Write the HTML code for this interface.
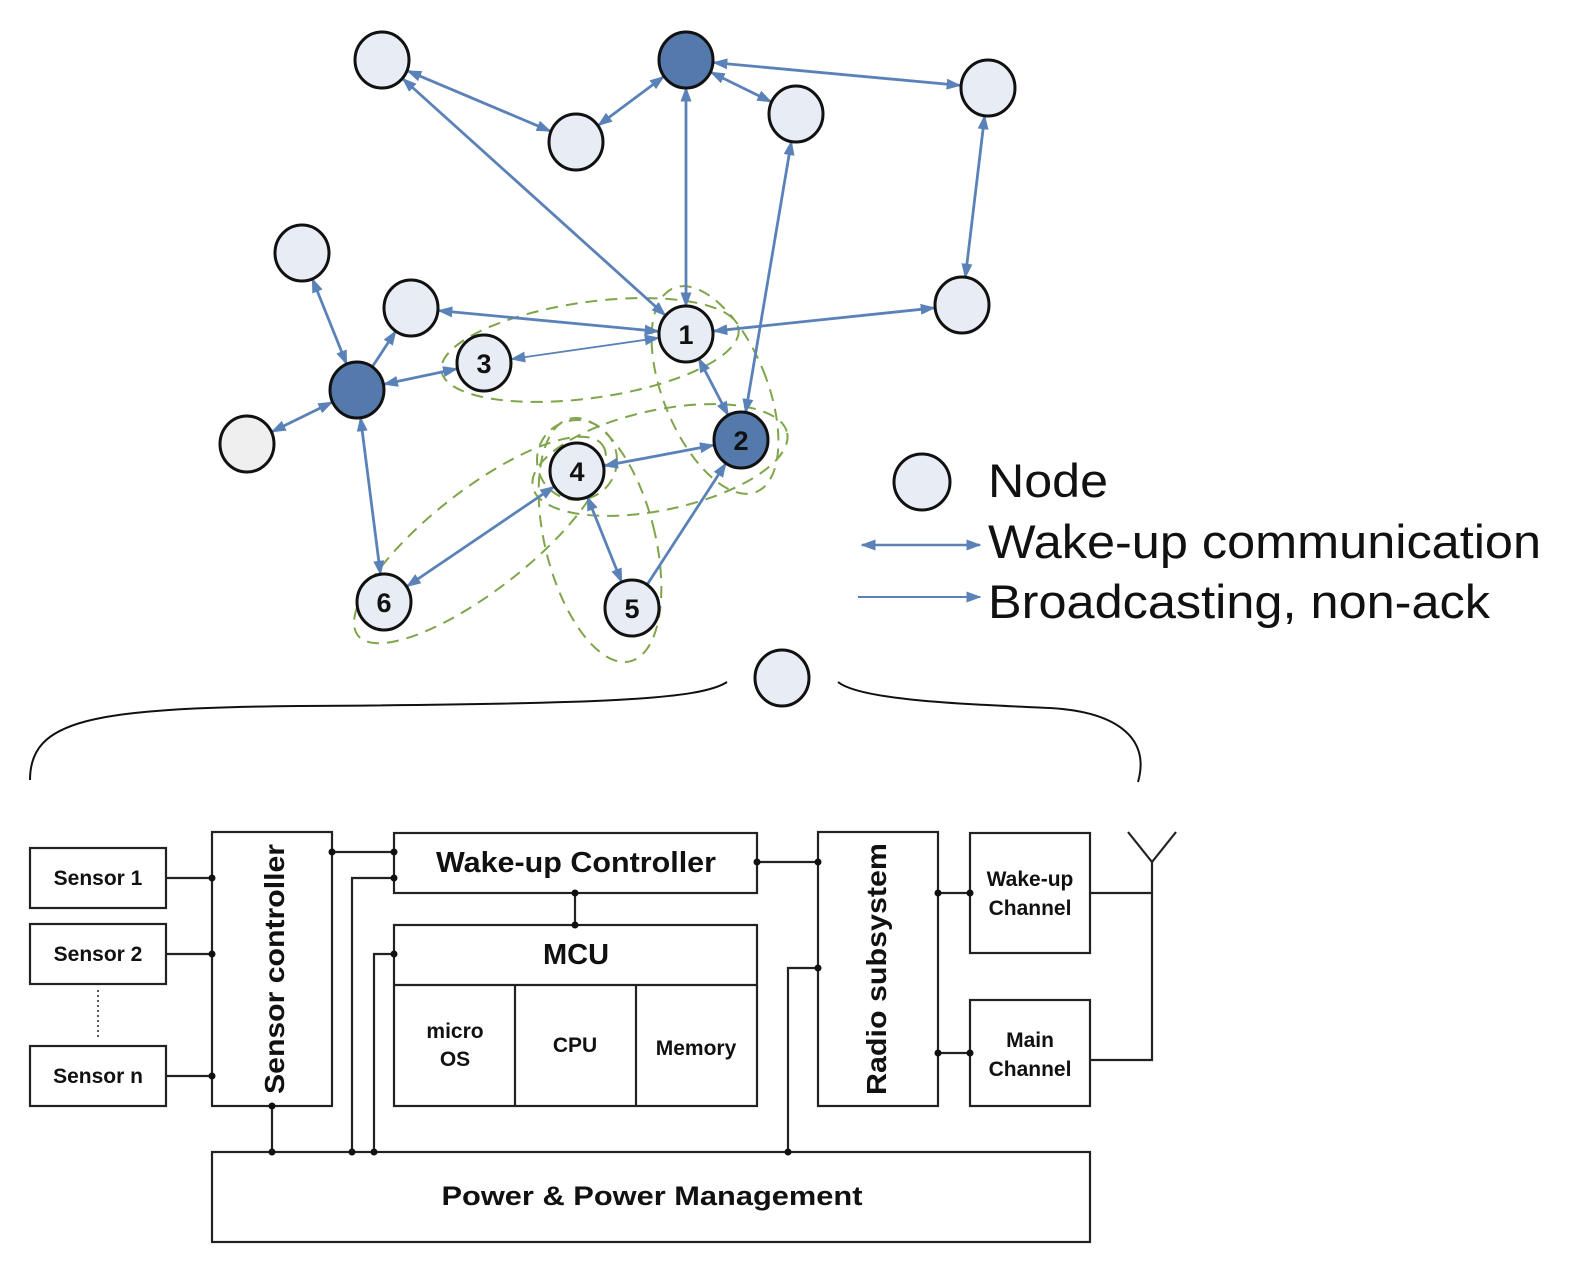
<!DOCTYPE html>
<html><head><meta charset="utf-8"><style>
html,body{margin:0;padding:0;background:#fff}
svg{display:block}
text{font-family:"Liberation Sans",Arial,sans-serif}
</style></head><body>
<svg id="s" width="1571" height="1274" viewBox="0 0 1571 1274" xmlns="http://www.w3.org/2000/svg">
<defs>
<marker id="ah" viewBox="0 0 10 10" refX="9" refY="5" markerWidth="15" markerHeight="11" orient="auto-start-reverse" markerUnits="userSpaceOnUse" preserveAspectRatio="none">
<path d="M0,0 L10,5 L0,10 z" fill="#5b82b8"/>
</marker>
</defs>
<g id="ell" fill="none" stroke="#7fa54a" stroke-width="2" stroke-dasharray="12,8">
<ellipse cx="590" cy="350" rx="150" ry="48" transform="rotate(-8 590 350)"/>
<ellipse cx="715" cy="390" rx="52" ry="110" transform="rotate(-22 715 390)"/>
<ellipse cx="660" cy="460" rx="130" ry="50" transform="rotate(-12 660 460)"/>
<ellipse cx="480" cy="540" rx="155" ry="50" transform="rotate(-38 480 540)"/>
<ellipse cx="600" cy="540" rx="55" ry="125" transform="rotate(-14 600 540)"/>
<ellipse cx="577" cy="460" rx="40" ry="40"/>
</g>
<g id="edges" stroke="#5b82b8" stroke-width="2.8" fill="none"></g>
<g id="nodes"></g>
<!-- legend -->
<ellipse cx="922" cy="482" rx="28" ry="28" fill="#e8edf5" stroke="#111" stroke-width="3"/>
<text x="988" y="497" font-size="47" fill="#111" textLength="120" lengthAdjust="spacingAndGlyphs">Node</text>
<line x1="862" y1="545" x2="980" y2="545" stroke="#5b82b8" stroke-width="2.5" marker-start="url(#ah)" marker-end="url(#ah)"/>
<text x="988" y="558" font-size="47" fill="#111" textLength="553" lengthAdjust="spacingAndGlyphs">Wake-up communication</text>
<line x1="858" y1="597" x2="980" y2="597" stroke="#5b82b8" stroke-width="2" marker-end="url(#ah)"/>
<text x="988" y="618" font-size="47" fill="#111" textLength="502" lengthAdjust="spacingAndGlyphs">Broadcasting, non-ack</text>
<ellipse cx="782" cy="678" rx="27" ry="28" fill="#e8edf5" stroke="#111" stroke-width="3"/>
<!-- brace -->
<g fill="none" stroke="#111" stroke-width="2">
<path d="M30,780 C30,720 90,708 300,706 C600,704 700,700 727,682"/>
<path d="M838,682 C860,700 960,704 1050,708 C1120,712 1150,740 1138,782"/>
</g>
<!-- block diagram -->
<g fill="none" stroke="#222" stroke-width="2.2">
<rect x="30" y="848" width="136" height="60"/>
<rect x="30" y="924" width="136" height="60"/>
<rect x="30" y="1046" width="136" height="60"/>
<rect x="212" y="832" width="120" height="274"/>
<rect x="394" y="833" width="363" height="60"/>
<rect x="394" y="925" width="363" height="181"/>
<line x1="394" y1="985" x2="757" y2="985"/>
<line x1="515" y1="985" x2="515" y2="1106"/>
<line x1="636" y1="985" x2="636" y2="1106"/>
<rect x="818" y="832" width="120" height="274"/>
<rect x="970" y="833" width="120" height="120"/>
<rect x="970" y="1000" width="120" height="106"/>
<rect x="212" y="1152" width="878" height="90"/>
<polyline points="166,878 212,878"/>
<polyline points="166,954 212,954"/>
<polyline points="166,1076 212,1076"/>
<polyline points="332,852 394,852"/>
<polyline points="352,1152 352,878 394,878"/>
<polyline points="374,1152 374,954 394,954"/>
<polyline points="272,1106 272,1152"/>
<polyline points="757,862 818,862"/>
<polyline points="575,893 575,925"/>
<polyline points="788,1152 788,968 818,968"/>
<polyline points="938,893 970,893"/>
<polyline points="938,1053 970,1053"/>
<polyline points="1090,893 1152,893"/>
<polyline points="1090,1060 1152,1060 1152,862"/>
<polyline points="1128,832 1152,862 1176,832"/>
<line x1="98" y1="990" x2="98" y2="1040" stroke-dasharray="2,3" stroke-width="1.5"/>
</g>
<g fill="#111">
<circle cx="212" cy="878" r="3.5"/><circle cx="212" cy="954" r="3.5"/><circle cx="212" cy="1076" r="3.5"/>
<circle cx="332" cy="852" r="3.5"/><circle cx="394" cy="852" r="3.5"/><circle cx="394" cy="878" r="3.5"/><circle cx="394" cy="954" r="3.5"/>
<circle cx="272" cy="1106" r="3.5"/><circle cx="272" cy="1152" r="3.5"/><circle cx="352" cy="1152" r="3.5"/><circle cx="374" cy="1152" r="3.5"/>
<circle cx="757" cy="862" r="3.5"/><circle cx="818" cy="862" r="3.5"/><circle cx="575" cy="893" r="3.5"/><circle cx="575" cy="925" r="3.5"/>
<circle cx="788" cy="1152" r="3.5"/><circle cx="818" cy="968" r="3.5"/>
<circle cx="938" cy="893" r="3.5"/><circle cx="970" cy="893" r="3.5"/><circle cx="938" cy="1053" r="3.5"/><circle cx="970" cy="1053" r="3.5"/>
</g>
<g fill="#111" font-weight="bold" text-anchor="middle">
<text x="98" y="885" font-size="21">Sensor 1</text>
<text x="98" y="961" font-size="21">Sensor 2</text>
<text x="98" y="1083" font-size="21">Sensor n</text>
<text transform="translate(284 969) rotate(-90)" font-size="28" textLength="250" lengthAdjust="spacingAndGlyphs">Sensor controller</text>
<text x="576" y="872" font-size="29" textLength="280" lengthAdjust="spacingAndGlyphs">Wake-up Controller</text>
<text x="576" y="964" font-size="29">MCU</text>
<text x="455" y="1038" font-size="21">micro</text>
<text x="455" y="1066" font-size="21">OS</text>
<text x="575" y="1052" font-size="21">CPU</text>
<text x="696" y="1055" font-size="21">Memory</text>
<text transform="translate(886 969) rotate(-90)" font-size="28" textLength="252" lengthAdjust="spacingAndGlyphs">Radio subsystem</text>
<text x="1030" y="886" font-size="21">Wake-up</text>
<text x="1030" y="915" font-size="21">Channel</text>
<text x="1030" y="1047" font-size="21">Main</text>
<text x="1030" y="1076" font-size="21">Channel</text>
<text x="652" y="1205" font-size="27" textLength="421" lengthAdjust="spacingAndGlyphs">Power &amp;  Power Management</text>
</g>
</svg>
<script>
var N={A:[382,60,0],B:[686,60,1],C:[576,142,0],D:[796,114,0],E:[988,88,0],F:[302,253,0],G:[411,308,0],H:[357,390,1],I:[247,444,2],
n1:[686,334,0,"1"],n3:[484,363,0,"3"],n2:[741,440,1,"2"],n4:[577,471,0,"4"],n6:[384,602,0,"6"],n5:[632,608,0,"5"],J:[962,305,0]};
var R=28,ns="http://www.w3.org/2000/svg";
var E=[["A","C",1,1],["C","B",1,1],["B","D",1,1],["B","E",1,1],["E","J",1,1],["n1","B",1,1],["A","n1",1,1],["n2","D",1,1],["n1","J",1,1],["n1","G",1,1],["n1","n3",1,1,1],["n3","H",1,1],["F","H",1,1],["H","G",0,1],["I","H",1,1],["H","n6",1,1],["n1","n2",1,1],["n2","n4",1,1],["n4","n6",1,1],["n4","n5",1,1],["n5","n2",0,1]];
var eg=document.getElementById("edges");
E.forEach(function(e){var a=N[e[0]],b=N[e[1]];var dx=b[0]-a[0],dy=b[1]-a[1],L=Math.hypot(dx,dy),ux=dx/L,uy=dy/L;
var l=document.createElementNS(ns,"line");l.setAttribute("x1",a[0]+ux*R);l.setAttribute("y1",a[1]+uy*R);l.setAttribute("x2",b[0]-ux*R);l.setAttribute("y2",b[1]-uy*R);
if(e[4])l.setAttribute("stroke-width","1.8");
if(e[2])l.setAttribute("marker-start","url(#ah)");if(e[3])l.setAttribute("marker-end","url(#ah)");eg.appendChild(l);});
var ng=document.getElementById("nodes");
for(var k in N){var n=N[k];var c=document.createElementNS(ns,"ellipse");c.setAttribute("cx",n[0]);c.setAttribute("cy",n[1]);c.setAttribute("rx",27);c.setAttribute("ry",28);
c.setAttribute("fill",n[2]==1?"#5479ab":(n[2]==2?"#efefef":"#e8edf5"));c.setAttribute("stroke","#111");c.setAttribute("stroke-width","3");ng.appendChild(c);
if(n[3]){var t=document.createElementNS(ns,"text");t.setAttribute("x",n[0]);t.setAttribute("y",n[1]+10);t.setAttribute("text-anchor","middle");t.setAttribute("font-size","27");t.setAttribute("font-weight","bold");t.setAttribute("fill","#111");t.textContent=n[3];ng.appendChild(t);}}
</script>
</body></html>
